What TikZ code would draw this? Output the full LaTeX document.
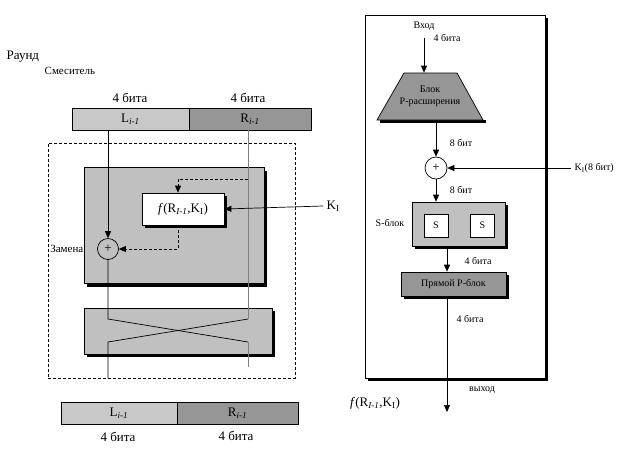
\documentclass[tikz,border=0pt]{standalone}
\usepackage{fontspec}
\setmainfont{Liberation Serif}
\usetikzlibrary{shapes.geometric,arrows.meta}
\newcommand{\sbi}[1]{\textsubscript{\textit{#1}}}
\definecolor{lgray}{HTML}{C8C8C8}
\definecolor{mgray}{HTML}{C0C0C0}
\definecolor{dgray}{HTML}{969696}
\definecolor{rline}{HTML}{808080}
\tikzset{
  big/.style={font=\fontsize{13}{15}\selectfont},
  mid/.style={font=\fontsize{11}{13}\selectfont},
  sml/.style={font=\fontsize{10}{12}\selectfont},
  shad/.style={preaction={fill=black, transform canvas={xshift=3pt,yshift=-3pt}}},
  barbox/.style={draw, inner sep=0pt, minimum height=22pt, big},
  box/.style={draw, inner sep=0pt, shad},
  arr/.style={-{Triangle[length=7pt,width=6pt]}},
  every path/.style={line width=0.7pt},
}
\begin{document}
\begin{tikzpicture}[x=1pt,y=-1pt]
\useasboundingbox (0,0) rectangle (620,448);
% ---------- left part ----------
\node[big, anchor=west] (raund) at (3,57) {Раунд};
\node[mid, anchor=west] (mix) at (41,71) {Смеситель};
\node[big] (t1) at (130,98) {4 бита};
\node[big] (t2) at (248,98) {4 бита};
\node[barbox, fill=lgray, minimum width=117pt] (L1) at (130.5,119) {L\sbi{i-1}};
\node[barbox, fill=dgray, minimum width=122pt] (R1) at (250,119) {R\sbi{i-1}};
\node[draw, dash pattern=on 3pt off 2pt, line width=0.9pt, minimum width=247pt, minimum height=235pt] (round) at (171.5,260.5) {};
\node[box, fill=mgray, minimum width=180pt, minimum height=116pt] (mixer) at (174,225.5) {};
\node[box, fill=white, minimum width=82pt, minimum height=32pt, big] (fbox) at (183,209) {\textit{f}(R\sbi{I-1},K\textsubscript{I})};
\node[circle, draw, minimum size=21pt, inner sep=0pt, big] (xor1) at (108,249) {+};
\node[mid, anchor=east] (zam) at (87,249) {Замена};
\node[box, fill=mgray, minimum width=188pt, minimum height=46pt] (swap) at (178,331) {};
\node[big, anchor=west] (KI) at (323,206) {K\textsubscript{I}};
\coordinate (ca) at (108,319);
\coordinate (cb) at (248,319);
\coordinate (cc) at (108,342);
\coordinate (cd) at (248,342);
\coordinate (lend) at (108,378);
\coordinate (rend) at (248,367);
\coordinate (rtop) at (248,130);
\coordinate (fb1) at (248,179);
\draw[arr] (xor1 |- L1.south) -- (xor1.north);
\draw[rline, line width=1pt] (rtop) -- (cb);
\draw (xor1.south) -- (ca) -- (cd);
\draw (cb) -- (cc) -- (lend);
\draw[rline, line width=1pt] (cd) -- (rend);
\draw[arr, dash pattern=on 3pt off 2pt] (fb1) -| ([xshift=-5pt]fbox.north);
\draw[arr, dash pattern=on 3pt off 2pt] ([xshift=-5pt]fbox.south) |- (xor1.east);
\draw[arr] (KI.west) -- (fbox.east);
\node[barbox, fill=lgray, minimum width=116pt] (L2) at (119,413) {L\sbi{i-1}};
\node[barbox, fill=dgray, minimum width=121pt] (R2) at (237.5,413) {R\sbi{i-1}};
\node[big] (t3) at (118,437) {4 бита};
\node[big] (t4) at (236,436) {4 бита};
% ---------- right part ----------
\node[draw, fill=white, minimum width=180pt, minimum height=363pt, shad] (fpanel) at (455,196.5) {};
\node[sml] (vh) at (424,26) {Вход};
\node[sml] (t5) at (447,38) {4 бита};
\fill[black] (380,120) -- (486,120) -- (486,123) -- (380,123) -- cycle;
\draw[fill=dgray] (404,73) -- (457,73) -- (483,120) -- (377,120) -- cycle;
\node[minimum width=106pt, minimum height=47pt, inner sep=0pt, align=center, sml] (trap) at (430,96.5) {Блок\\P-расширения};
\node[circle, draw, fill=white, minimum size=22pt, inner sep=0pt, big] (xor2) at (436,168) {+};
\node[sml] (t6) at (461,143) {8 бит};
\node[sml] (t7) at (461,190) {8 бит};
\node[sml, anchor=west] (K2) at (571,168) {K\textsubscript{I}(8 бит)};
\node[box, fill=mgray, minimum width=93pt, minimum height=44pt] (sbox) at (458.5,224) {};
\node[draw, fill=white, minimum width=24pt, minimum height=23pt, inner sep=0pt, sml] (s1) at (436,225.5) {S};
\node[draw, fill=white, minimum width=24pt, minimum height=23pt, inner sep=0pt, sml] (s2) at (482.5,225.5) {S};
\node[sml] (sl) at (390,223) {S-блок};
\node[sml] (t8) at (478,261) {4 бита};
\node[box, fill=dgray, minimum width=105pt, minimum height=24pt, sml] (pblk) at (453.5,284) {Прямой P-блок};
\node[sml] (t9) at (470,319) {4 бита};
\node[sml] (vyh) at (482,390) {выход};
\node[big] (fout) at (375,403) {\textit{f}(R\sbi{I-1},K\textsubscript{I})};
\coordinate (out) at (447,412);
\draw[arr] (vh |- t5) -- (vh |- trap.north);
\draw[arr] (xor2 |- trap.south) -- (xor2.north);
\draw[arr] (K2.west) -- (xor2.east);
\draw[arr] (xor2.south) -- (xor2 |- sbox.north);
\draw[arr] (out |- sbox.south) -- (out |- pblk.north);
\draw[arr] (out |- pblk.south) -- (out);
\end{tikzpicture}
\end{document}
